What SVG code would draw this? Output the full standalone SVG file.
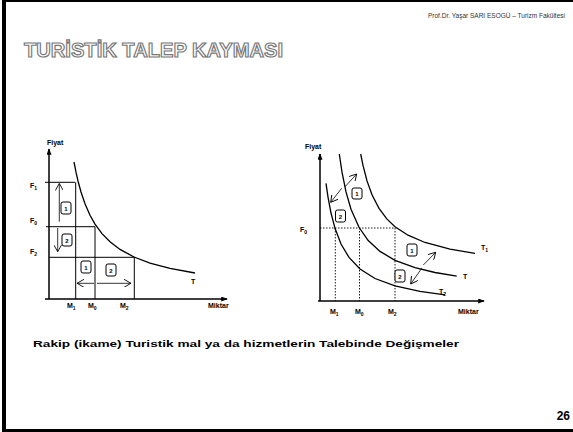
<svg xmlns="http://www.w3.org/2000/svg" width="573" height="432" viewBox="0 0 573 432">
<style>
.lbl{font-family:"Liberation Sans",Arial,sans-serif;font-weight:bold;font-size:7px;fill:#000}
.sub{font-size:5px}
.ax{stroke:#000;stroke-width:1.5;fill:none}
.crv{stroke:#000;stroke-width:1.3;fill:none}
.grid{stroke:#000;stroke-width:1;fill:none}
.dot{stroke:#000;stroke-width:0.9;fill:none;stroke-dasharray:1.5 1.5}
.arr{stroke:#000;stroke-width:0.8;fill:none;marker-end:url(#open)}
.box rect{fill:#fff;stroke:#000;stroke-width:1}
.box text{font-family:"Liberation Sans",Arial,sans-serif;font-weight:bold;font-size:6px;text-anchor:middle}
</style>
<defs>
<marker id="open" viewBox="0 0 8 8" refX="7" refY="4" markerWidth="8" markerHeight="8" markerUnits="userSpaceOnUse" orient="auto">
<path d="M0,0 L7,4 L0,8" fill="none" stroke="#000" stroke-width="0.9"/>
</marker>
<marker id="solid" viewBox="0 0 8 6" refX="7" refY="3" markerWidth="7" markerHeight="5" markerUnits="userSpaceOnUse" orient="auto">
<path d="M0,0 L8,3 L0,6 Z" fill="#000"/>
</marker>
</defs>
<rect width="573" height="432" fill="#fff"/>
<g id="frame">
<rect x="2" y="0" width="4" height="432" fill="#000"/>
<rect x="2" y="0" width="571" height="2" fill="#000"/>
<rect x="2" y="429" width="571" height="3" fill="#000"/>
</g>
<text id="header" x="565" y="18" text-anchor="end" font-family="'Liberation Sans',Arial,sans-serif" font-size="6.5" fill="#333">Prof.Dr. Yaşar SARI  ESOGÜ – Turizm Fakültesi</text>
<text id="title" x="24" y="56.5" font-family="'Liberation Sans',Arial,sans-serif" font-weight="bold" font-size="21" fill="#fff" stroke="#777" stroke-width="1.2" textLength="259" lengthAdjust="spacingAndGlyphs">TURİSTİK TALEP KAYMASI</text>

<g id="connectors">
<!-- left chart axes -->
<line class="ax" x1="49" y1="299" x2="49" y2="149" marker-end="url(#solid)"/>
<line class="ax" x1="45" y1="299" x2="227" y2="299" marker-end="url(#solid)"/>
<!-- left grid -->
<line class="grid" x1="45" y1="182.3" x2="75" y2="182.3"/>
<line class="grid" x1="46" y1="226.7" x2="95" y2="226.7"/>
<line class="grid" x1="49" y1="257.3" x2="135" y2="257.3"/>
<line class="grid" x1="75.7" y1="182.3" x2="75.7" y2="299"/>
<line class="grid" x1="95" y1="226.7" x2="95" y2="299"/>
<line class="grid" x1="134.3" y1="257.3" x2="134.3" y2="299"/>
<!-- left curve T -->
<path id="curveT_left" class="crv" d="M74,162 L76,172.2 L78,181 L81,192 L85,203.8 L90,215.2 L95,224.1 L102,233.6 L110,241.8 L120,249.4 L134,257 L150,263.1 L170,268.4 L195,273"/>
<!-- left arrows -->
<line class="arr" x1="59.3" y1="221.7" x2="59.3" y2="183.5"/>
<line class="arr" x1="57.7" y1="228" x2="57.7" y2="251.7"/>
<line class="arr" x1="94" y1="283.3" x2="77" y2="283.3"/>
<line class="arr" x1="97" y1="283.3" x2="131" y2="283.3"/>

<!-- right chart axes -->
<line class="ax" x1="320" y1="301" x2="320" y2="154" marker-end="url(#solid)"/>
<line class="ax" x1="318" y1="301" x2="484" y2="301" marker-end="url(#solid)"/>
<!-- dotted -->
<line class="dot" x1="320" y1="228" x2="395" y2="228"/>
<line class="dot" x1="335.3" y1="228" x2="335.3" y2="301"/>
<line class="dot" x1="359.5" y1="228" x2="359.5" y2="301"/>
<line class="dot" x1="395" y1="228" x2="395" y2="301"/>
<!-- curves -->
<path id="curveT1" class="crv" d="M360.7,154 L363,165.4 L367,180.9 L372,194.8 L379,208.4 L387,219.1 L395,226.7 L408,235.2 L425,242.5 L450,249.1 L475,253.3"/>
<path id="curveT" class="crv" d="M339.3,154 L342,172.2 L346,191.9 L351,209.2 L359,227.3 L368,240.3 L380,251.4 L395,260.3 L415,267.7 L435,272.5 L456.7,276.1"/>
<path id="curveT2" class="crv" d="M326,183.3 L328,197.1 L331,213 L335,228.3 L341,244 L349,257.4 L360,269 L375,278.5 L395,285.9 L420,291.4 L445,294.9"/>
<!-- right arrows -->
<line class="arr" x1="345" y1="186.7" x2="356.7" y2="174"/>
<line class="arr" x1="341.7" y1="188.3" x2="330.7" y2="202.3"/>
<line class="arr" x1="423.3" y1="265" x2="435.7" y2="252.3"/>
<line class="arr" x1="421.7" y1="268.3" x2="410.7" y2="284"/>
</g>

<g id="left-labels">
<text class="lbl" x="47" y="145">Fiyat</text>
<text class="lbl" x="30" y="188">F<tspan class="sub" dy="1.5">1</tspan></text>
<text class="lbl" x="30" y="223">F<tspan class="sub" dy="1.5">0</tspan></text>
<text class="lbl" x="30" y="254">F<tspan class="sub" dy="1.5">2</tspan></text>
<text class="lbl" x="67" y="308">M<tspan class="sub" dy="1.5">1</tspan></text>
<text class="lbl" x="88" y="308">M<tspan class="sub" dy="1.5">0</tspan></text>
<text class="lbl" x="120" y="308">M<tspan class="sub" dy="1.5">2</tspan></text>
<text class="lbl" x="208" y="308">Miktar</text>
<text class="lbl" x="191" y="284">T</text>
</g>
<g id="left-box-1a" class="box"><rect x="61" y="202" width="10" height="12" rx="2"/><text x="66" y="210.5">1</text></g>
<g id="left-box-2a" class="box"><rect x="62" y="234" width="10" height="12" rx="2"/><text x="67" y="242.5">2</text></g>
<g id="left-box-1b" class="box"><rect x="81" y="261" width="10" height="12" rx="2"/><text x="86" y="269.5">1</text></g>
<g id="left-box-2b" class="box"><rect x="106" y="264" width="10" height="12" rx="2"/><text x="111" y="272.5">2</text></g>

<g id="right-labels">
<text class="lbl" x="305" y="149">Fiyat</text>
<text class="lbl" x="300" y="232">F<tspan class="sub" dy="1.5">0</tspan></text>
<text class="lbl" x="330" y="314">M<tspan class="sub" dy="1.5">1</tspan></text>
<text class="lbl" x="355" y="314">M<tspan class="sub" dy="1.5">0</tspan></text>
<text class="lbl" x="388" y="314">M<tspan class="sub" dy="1.5">2</tspan></text>
<text class="lbl" x="458" y="314">Miktar</text>
<text class="lbl" x="481" y="250">T<tspan class="sub" dy="1.5">1</tspan></text>
<text class="lbl" x="463" y="279">T</text>
<text class="lbl" x="439" y="294">T<tspan class="sub" dy="1.5">2</tspan></text>
</g>
<g id="right-box-1a" class="box"><rect x="352" y="188" width="10" height="11" rx="2"/><text x="357" y="196">1</text></g>
<g id="right-box-2a" class="box"><rect x="335.5" y="210" width="10" height="12" rx="2"/><text x="340.5" y="218.5">2</text></g>
<g id="right-box-1b" class="box"><rect x="407" y="244" width="10" height="12" rx="2"/><text x="412" y="252.5">1</text></g>
<g id="right-box-2b" class="box"><rect x="395" y="270" width="10" height="12" rx="2"/><text x="400" y="278.5">2</text></g>

<text id="caption" x="33" y="347" font-family="'Liberation Sans',Arial,sans-serif" font-weight="bold" font-size="9.5" fill="#000" textLength="426" lengthAdjust="spacingAndGlyphs">Rakip (ikame) Turistik mal ya da hizmetlerin  Talebinde Değişmeler</text>
<text id="page" x="570" y="420" text-anchor="end" font-family="'Liberation Sans',Arial,sans-serif" font-weight="bold" font-size="12" fill="#000">26</text>
</svg>
